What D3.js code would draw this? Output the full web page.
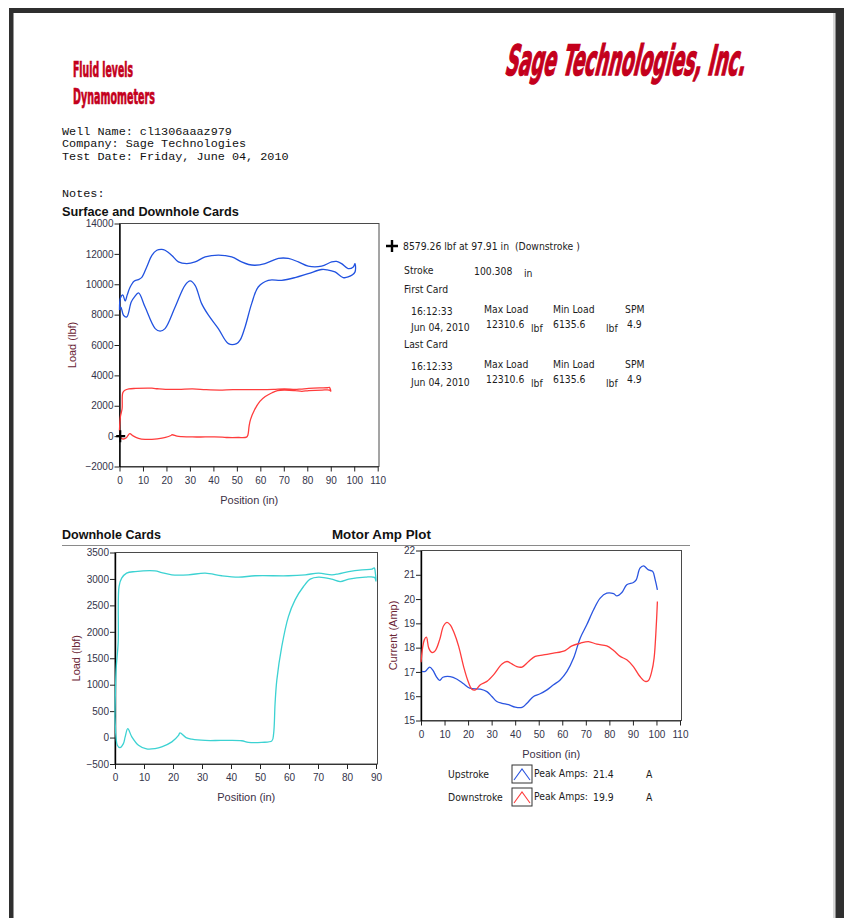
<!DOCTYPE html>
<html>
<head>
<meta charset="utf-8">
<script src="https://cdn.jsdelivr.net/npm/d3@7"></script>
<style>
  body { margin: 0; background: #fff; }
  svg { display: block; }
</style>
</head>
<body>
<svg id="page" width="844" height="918"></svg>
<script>
// ---- data ----
const wellInfo = [
  'Well Name: cl1306aaaz979',
  'Company: Sage Technologies',
  'Test Date: Friday, June 04, 2010'
]

// surface card, loop: upstroke 0 -> 100 then downstroke back to 0
const surfacePos = [0, 0.4, 1.4, 2.4, 3.3, 4.5, 6.2, 8, 9.5, 11.6, 13.8, 15.9, 18, 19.4, 22.3, 25.1, 28.7,
  32.2, 36.5, 42.1, 47.8, 52, 55, 57.7, 62, 67.7, 71.9, 76.2, 80.4, 86.1, 90.4, 92.5, 94.6, 97.4, 99.6, 100.3,
  100.3, 97.4, 95.3, 91.8, 88.5, 86.1, 80.4, 74.8, 69.1, 63.4, 59.1, 56.3, 53.5, 51.5, 49.9, 46.4, 42.1, 37.9,
  35, 32.2, 30.1, 27.9, 23.7, 19.4, 17.3, 15.2, 10.9, 8.1, 6.4, 5, 3.1, 1.7, 0.6, 0]
const surfaceLoad = [8300, 9100, 9300, 8900, 9300, 9800, 10200, 10300, 10450, 11140, 11900, 12240, 12300, 12240,
  11900, 11470, 11360, 11470, 11800, 11920, 11800, 11470, 11300, 11250, 11360, 11700, 11700, 11470, 11190, 11190,
  11470, 11500, 11360, 11030, 11140, 11360,
  10800, 10480, 10440, 10810, 10950, 10970, 10700, 10440, 10260, 10260, 9820, 8725, 7190, 6350, 6090, 6090, 7080,
  7960, 8725, 9930, 10220, 9930, 8500, 7080, 6920, 7080, 8500, 9430, 9165, 8835, 7850, 7960, 8500, 8300]

// downhole card, loop
const downholePos = [0, 0.4, 1.1, 1.4, 2.3, 4, 6.9, 13.8, 16.1, 19.6, 25.3, 31.1, 36.8, 42.6, 48.3, 59.8, 65.6,
  70.2, 74.8, 77.1, 80.6, 85.2, 88.6, 89.4, 89.8, 90, 89.5, 86.3, 80.6, 77.7, 74.8, 70.2, 67.3, 65, 62.1, 59.8,
  57.5, 55.8, 55.2, 54.7, 54.1, 50.6, 46, 43.7, 36.8, 31.1, 26.5, 24.5, 22.4, 21.9, 19.6, 16.1, 13.8, 10.9, 8.1,
  5.8, 4.4, 3.5, 2.9, 1.7, 0.8, 0.35, 0]
const downholeLoad = [400, 1300, 1800, 2860, 3015, 3110, 3140, 3154, 3120, 3078, 3078, 3110, 3060, 3034, 3060,
  3060, 3078, 3110, 3078, 3097, 3140, 3173, 3185, 3210, 3100, 2960, 3030, 3034, 2996, 2951, 2996, 3034, 2996,
  2857, 2604, 2288, 1719, 1087, 645, 76, -63, -90, -90, -60, -55, -55, -30, 0, 90, 40, -82, -177, -209, -215,
  -145, 13, 170, 13, -114, -190, -145, 13, 400]

// motor amps
const upPos = [0.4, 1.8, 3.7, 5.1, 6.5, 7.9, 9.3, 12.4, 15.3, 18.1, 20.7, 25.2, 28, 30.1, 32.2, 34.4, 37.2, 40,
  42.9, 45, 47.8, 50.6, 53.5, 56.3, 59.1, 62, 64.8, 67.6, 70.4, 73.3, 76.1, 78.9, 81.8, 83.2, 85.3, 87.4, 90.2,
  91.4, 93, 94.5, 96.6, 98.4, 99.4, 100.4]
const upAmps = [17.02, 17.02, 17.2, 17.06, 16.81, 16.65, 16.78, 16.81, 16.7, 16.51, 16.33, 16.29, 16.19, 15.99,
  15.78, 15.71, 15.65, 15.55, 15.54, 15.71, 15.99, 16.1, 16.26, 16.47, 16.67, 17.02, 17.57, 18.39, 18.94, 19.56,
  20.04, 20.24, 20.22, 20.13, 20.27, 20.59, 20.68, 20.79, 21.27, 21.37, 21.2, 21.14, 20.82, 20.38]
const downPos = [0, 1.4, 2.3, 3.3, 4.7, 6.1, 7.9, 9.6, 11, 12.4, 14.1, 16, 18.1, 19.8, 21.6, 23.1, 25.2, 28, 30.8,
  34.4, 36.5, 38.6, 40.7, 42.9, 45.7, 48.5, 52, 56.3, 61.2, 64.1, 67.6, 71.1, 74.7, 78.9, 81.8, 84.6, 87.4, 90.2,
  93, 95.2, 96.6, 98, 99, 99.9, 100.4]
const downAmps = [17.4, 18.32, 18.43, 17.98, 17.8, 17.88, 18.32, 18.9, 19.04, 18.94, 18.6, 18.05, 17.22, 16.67,
  16.29, 16.26, 16.47, 16.61, 16.88, 17.33, 17.43, 17.33, 17.22, 17.2, 17.43, 17.64, 17.7, 17.77, 17.88, 18.07,
  18.18, 18.25, 18.14, 18.07, 17.88, 17.64, 17.5, 17.22, 16.81, 16.61, 16.65, 17.02, 17.57, 18.87, 19.9]

const surfaceXTicks = d3.range(0, 111, 10)
const surfaceYTicks = d3.range(-2000, 14001, 2000)
const downholeXTicks = d3.range(0, 91, 10)
const downholeYTicks = d3.range(-500, 3501, 500)
const ampXTicks = d3.range(0, 111, 10)
const ampYTicks = d3.range(15, 23, 1)

const cursorPoint = [0.3, 0] // cross cursor on the surface plot

const zip = (xs, ys) => xs.map((v, i) => [v, ys[i]])

// ---- drawing ----
const svg = d3.select('#page')
const RED = '#c4001c'
const NARROW = "'Liberation Sans Narrow', 'DejaVu Sans Condensed', sans-serif"
const SANS = "'Liberation Sans', Arial, sans-serif"

svg.append('rect').attr('width', 844).attr('height', 918).attr('fill', '#fff')

// page frame
svg.append('rect').attr('x', 9).attr('y', 8).attr('width', 835).attr('height', 5).attr('fill', '#2f2f2f')
svg.append('rect').attr('x', 9).attr('y', 8).attr('width', 4.5).attr('height', 910).attr('fill', '#2f2f2f')
svg.append('rect').attr('x', 833).attr('y', 13).attr('width', 2.5).attr('height', 905).attr('fill', '#d8d8d8')
svg.append('rect').attr('x', 835.5).attr('y', 8).attr('width', 9).attr('height', 910).attr('fill', '#2f2f2f')

// squeeze a text to a given width with a horizontal scale (measured, not guessed)
function fit (sel, x, y, width, skew) {
  const natural = sel.node().getComputedTextLength()
  const sx = width / natural
  sel.attr('transform', `translate(${x},${y})${skew ? ` skewX(${skew})` : ''} scale(${sx},1)`)
  return sel
}

// red header words
function heavy (txt, x, y, size, width, skew) {
  const t = svg.append('text')
      .attr('font-family', NARROW)
      .attr('font-weight', 'bold')
      .attr('font-size', size)
      .attr('fill', RED).attr('stroke', RED).attr('stroke-width', size / 30)
      .text(txt)
  fit(t, x, y, width, skew)
}
heavy('Fluid levels', 73, 77, 21, 60)
heavy('Dynamometers', 73, 104, 21, 82)
heavy('Sage Technologies, Inc.', 504, 75, 42, 240, -13)

// well info block
svg.append('g').selectAll('text').data(wellInfo).join('text')
    .attr('x', 62).attr('y', (d, i) => 135 + i * 12.3)
    .attr('font-family', "'Liberation Mono', 'DejaVu Sans Mono', monospace")
    .attr('font-size', 11.8).attr('fill', '#111')
    .text(d => d)
svg.append('text').attr('x', 62).attr('y', 197)
    .attr('font-family', "'Liberation Mono', monospace").attr('font-size', 11.8).attr('fill', '#111')
    .text('Notes:')

function title (txt, x, y, width) {
  const t = svg.append('text')
      .attr('font-family', SANS).attr('font-weight', 'bold').attr('font-size', 13).attr('fill', '#111')
      .text(txt)
  fit(t, x, y, width)
}
title('Surface and Downhole Cards', 62, 216, 177)
title('Downhole Cards', 62, 539, 99)
title('Motor Amp Plot', 332, 539, 99)
svg.append('line').attr('x1', 62).attr('x2', 690).attr('y1', 545.5).attr('y2', 545.5)
    .attr('stroke', '#8a8a8a').attr('stroke-width', 1)

// generic plot panel
function panel (o) {
  const g = svg.append('g')
  const x = d3.scaleLinear().domain(o.xDomain).range([o.left, o.xEnd])
  const y = d3.scaleLinear().domain(o.yDomain).range([o.bottom, o.top])

  g.append('rect')
      .attr('x', o.left).attr('y', o.top)
      .attr('width', o.right - o.left).attr('height', o.bottom - o.top)
      .attr('fill', '#fff').attr('stroke', '#4a4a4a').attr('stroke-width', 1)

  const xa = g.append('g').attr('transform', `translate(0,${o.bottom})`)
      .call(d3.axisBottom(x).tickValues(o.xTicks).tickFormat(d3.format('d'))
        .tickSize(5).tickPadding(5).tickSizeOuter(0))
  const ya = g.append('g').attr('transform', `translate(${o.left},0)`)
      .call(d3.axisLeft(y).tickValues(o.yTicks).tickFormat(d3.format('d'))
        .tickSize(5).tickPadding(1).tickSizeOuter(0))
  xa.select('.domain').attr('stroke', '#333')
  ya.select('.domain').attr('stroke', '#000').attr('stroke-width', 1.4)
  g.selectAll('.tick line').attr('stroke', '#222')
  g.selectAll('.tick text')
      .attr('font-family', SANS).attr('font-size', 10).attr('fill', '#34344a')

  g.append('text')
      .attr('x', (o.left + o.right) / 2).attr('y', o.bottom + 37)
      .attr('text-anchor', 'middle')
      .attr('font-family', SANS).attr('font-size', 11).attr('fill', '#3d3046')
      .text('Position (in)')
  g.append('text')
      .attr('transform', `translate(${o.yTitleX},${(o.top + o.bottom) / 2}) rotate(-90)`)
      .attr('text-anchor', 'middle')
      .attr('font-family', SANS).attr('font-size', 11).attr('fill', '#6a2434')
      .text(o.yTitle)

  const line = d3.line().x(d => x(d[0])).y(d => y(d[1])).curve(d3.curveCatmullRom.alpha(0.5))
  o.series.forEach(s => {
    g.append('path').datum(s.data)
        .attr('d', line)
        .attr('fill', 'none').attr('stroke', s.color).attr('stroke-width', 1.3)
  })
  return { g, x, y }
}

const surf = panel({
  left: 119.5, right: 379, xEnd: 377.7, top: 223.5, bottom: 466.5,
  xDomain: [0, 110], yDomain: [-2000, 14000],
  xTicks: surfaceXTicks, yTicks: surfaceYTicks,
  yTitle: 'Load (lbf)', yTitleX: 76,
  series: [
    { data: zip(surfacePos, surfaceLoad), color: '#2152e0' },
    { data: zip(downholePos, downholeLoad), color: '#ff3c3c' }
  ]
})
// cross cursor
const cx = surf.x(cursorPoint[0]); const cy = surf.y(cursorPoint[1])
surf.g.append('path')
    .attr('d', `M${cx - 4},${cy}H${cx + 5}M${cx},${cy - 6}V${cy + 6}`)
    .attr('stroke', '#000').attr('stroke-width', 2.2)

panel({
  left: 115, right: 377.5, xEnd: 376, top: 552.5, bottom: 764,
  xDomain: [0, 90], yDomain: [-500, 3500],
  xTicks: downholeXTicks, yTicks: downholeYTicks,
  yTitle: 'Load (lbf)', yTitleX: 80,
  series: [{ data: zip(downholePos, downholeLoad), color: '#3cd2d2' }]
})

panel({
  left: 421, right: 681.5, xEnd: 680, top: 550.5, bottom: 720.5,
  xDomain: [0, 110], yDomain: [15, 22],
  xTicks: ampXTicks, yTicks: ampYTicks,
  yTitle: 'Current (Amp)', yTitleX: 397,
  series: [
    { data: zip(upPos, upAmps), color: '#2b55e0' },
    { data: zip(downPos, downAmps), color: '#ff3c3c' }
  ]
})

// cursor readout and card summary
const info = svg.append('g').attr('font-family', NARROW).attr('font-size', 10.3).attr('fill', '#1c1c1c')
info.append('path').attr('d', 'M386,246H398M392,240V252').attr('stroke', '#000').attr('stroke-width', 2.4)
const infoRows = [
  ['8579.26 lbf at 97.91 in  (Downstroke )', 403, 250],
  ['Stroke', 404, 274], ['100.308', 474, 275], ['in', 524, 277],
  ['First Card', 404, 293],
  ['16:12:33', 411, 315], ['Max Load', 484, 313], ['Min Load', 553, 313], ['SPM', 625, 313],
  ['Jun 04, 2010', 411, 331], ['12310.6', 486, 328], ['lbf', 531, 332], ['6135.6', 553, 328], ['lbf', 606, 332], ['4.9', 627, 328],
  ['Last Card', 404, 348],
  ['16:12:33', 411, 370], ['Max Load', 484, 368], ['Min Load', 553, 368], ['SPM', 625, 368],
  ['Jun 04, 2010', 411, 386], ['12310.6', 486, 383], ['lbf', 531, 387], ['6135.6', 553, 383], ['lbf', 606, 387], ['4.9', 627, 383]
]
info.selectAll('text').data(infoRows).join('text')
    .attr('x', d => d[1]).attr('y', d => d[2])
    .attr('xml:space', 'preserve').style('white-space', 'pre')
    .text(d => d[0])

// amp legend
const legendRows = [
  { name: 'Upstroke', peak: '21.4', color: '#2b55e0', y: 774 },
  { name: 'Downstroke', peak: '19.9', color: '#ff3c3c', y: 797 }
]
const leg = svg.append('g').attr('font-family', NARROW).attr('font-size', 10.3).attr('fill', '#1c1c1c')
legendRows.forEach(r => {
  leg.append('text').attr('x', 448).attr('y', r.y + 4).text(r.name)
  leg.append('rect').attr('x', 512).attr('y', r.y - 9).attr('width', 20).attr('height', 18)
      .attr('fill', '#fff').attr('stroke', '#333').attr('stroke-width', 1)
  leg.append('path').attr('d', `M514,${r.y + 6}L522,${r.y - 5}L530,${r.y + 6}`)
      .attr('fill', 'none').attr('stroke', r.color).attr('stroke-width', 1.1)
  fit(leg.append('text').text('Peak Amps:'), 534, r.y + 3, 54)
  leg.append('text').attr('x', 593).attr('y', r.y + 4).text(r.peak)
  leg.append('text').attr('x', 646).attr('y', r.y + 4).text('A')
})
</script>
</body>
</html>
